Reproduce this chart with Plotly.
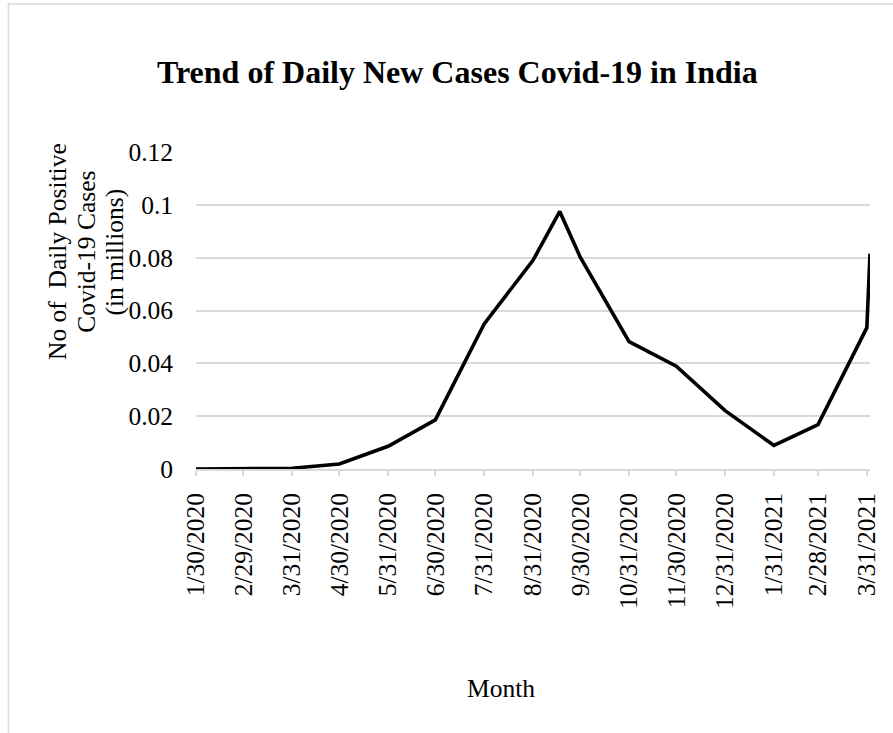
import plotly.graph_objects as go

# Daily new Covid-19 cases in India (millions)
dates = ["2020-01-30", "2020-02-29", "2020-03-31", "2020-04-30", "2020-05-31",
         "2020-06-30", "2020-07-31", "2020-08-31", "2020-09-17", "2020-09-30",
         "2020-10-31", "2020-11-30", "2020-12-31", "2021-01-31", "2021-02-28",
         "2021-03-31", "2021-04-02"]
cases = [0.0000, 0.0000, 0.0003, 0.0019, 0.0086,
         0.0186, 0.0549, 0.0790, 0.0975, 0.0802,
         0.0482, 0.0389, 0.0221, 0.0089, 0.0168,
         0.0535, 0.0815]

tick_dates = ["2020-01-30", "2020-02-29", "2020-03-31", "2020-04-30", "2020-05-31",
              "2020-06-30", "2020-07-31", "2020-08-31", "2020-09-30", "2020-10-31",
              "2020-11-30", "2020-12-31", "2021-01-31", "2021-02-28", "2021-03-31"]
tick_text = ["1/30/2020", "2/29/2020", "3/31/2020", "4/30/2020", "5/31/2020",
             "6/30/2020", "7/31/2020", "8/31/2020", "9/30/2020", "10/31/2020",
             "11/30/2020", "12/31/2020", "1/31/2021", "2/28/2021", "3/31/2021"]

W, H = 893, 733
L, R, T, B = 196, 875, 152, 469   # plot area in pixels
FONT = "Liberation Serif, Times New Roman, serif"
GRID = "#d9d9d9"


def px_x(p):
    return (p - L) / (R - L)


def px_y(p):
    return (B - p) / (B - T)


fig = go.Figure()
fig.add_trace(go.Scatter(
    x=dates, y=cases, mode="lines",
    line=dict(color="black", width=3.6),
    hoverinfo="skip", showlegend=False, cliponaxis=False,
))

fig.update_layout(
    width=W, height=H,
    margin=dict(l=L, r=W - R, t=T, b=H - B, pad=0),
    paper_bgcolor="white", plot_bgcolor="white",
    font=dict(family=FONT, size=25.5, color="black"),
    showlegend=False,
)

fig.update_xaxes(
    type="date", range=["2020-01-30", "2021-04-02"],
    tickmode="array", tickvals=tick_dates, ticktext=tick_text,
    tickangle=-90, ticks="outside", ticklen=5, tickcolor=GRID, tickwidth=1.5,
    showline=True, linecolor=GRID, linewidth=1.5,
    showgrid=False, zeroline=False,
    tickfont=dict(family=FONT, size=25.5, color="black"),
    ticklabelstandoff=7,
)
fig.update_yaxes(
    range=[0, 0.12], dtick=0.02, tick0=0,
    showgrid=True, gridcolor=GRID, gridwidth=1.5,
    zeroline=False, showline=False, ticks="",
    tickfont=dict(family=FONT, size=25.5, color="black"),
    ticklabelstandoff=22,
)

# Title
fig.add_annotation(
    text="<b>Trend of Daily New Cases Covid-19 in India</b>",
    xref="paper", yref="paper", x=px_x(459.5), y=px_y(72),
    xanchor="center", yanchor="middle", showarrow=False,
    font=dict(family=FONT, size=32, color="black"),
)

# Y-axis title, three centred lines
for text, xc in [("No of  Daily Positive", 56),
                 ("Covid-19 Cases", 85),
                 ("(in millions)", 113)]:
    fig.add_annotation(
        text=text, textangle=-90,
        xref="paper", yref="paper", x=px_x(xc), y=px_y(252),
        xanchor="center", yanchor="middle", showarrow=False,
        font=dict(family=FONT, size=25.5, color="black"),
    )

# X-axis title
fig.add_annotation(
    text="Month",
    xref="paper", yref="paper", x=px_x(503), y=px_y(688),
    xanchor="center", yanchor="middle", showarrow=False,
    font=dict(family=FONT, size=25.5, color="black"),
)

# Chart-area border (top and left edges visible)
fig.add_shape(
    type="rect", xref="paper", yref="paper",
    x0=px_x(7), x1=px_x(W + 20), y0=px_y(H + 20), y1=px_y(4),
    line=dict(color=GRID, width=1.5), fillcolor="rgba(0,0,0,0)", layer="below",
)

fig.write_html("out.html")
